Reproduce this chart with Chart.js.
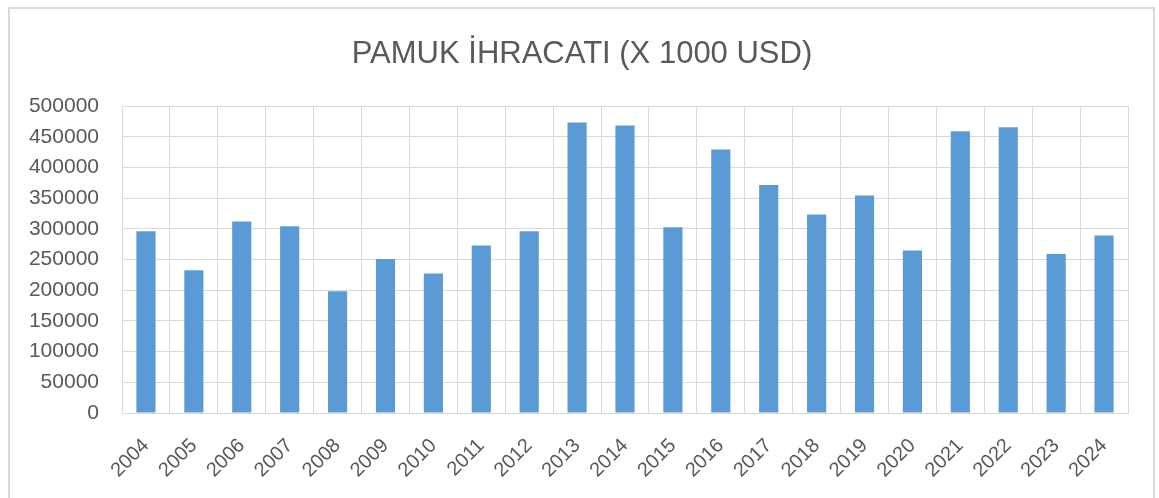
<!DOCTYPE html>
<html>
<head>
<meta charset="utf-8">
<script src="https://cdn.jsdelivr.net/npm/chart.js@4/dist/chart.umd.min.js"></script>
<style>
  html, body { margin: 0; padding: 0; background: #fff; overflow: hidden; }
  #frame { position: absolute; left: 8px; top: 7px; width: 1147px; height: 510px; border: 2px solid #d9d9d9; box-sizing: border-box; }
  #chart-container { position: absolute; left: 0; top: 0; width: 1159px; height: 498px; }
</style>
</head>
<body>
<div id="frame"></div>
<div id="chart-container"><canvas id="pamuk-chart" width="1159" height="498"></canvas></div>
<script>
const TITLE = 'PAMUK İHRACATI (X 1000 USD)';
const years = ['2004', '2005', '2006', '2007', '2008', '2009', '2010', '2011', '2012', '2013', '2014',
  '2015', '2016', '2017', '2018', '2019', '2020', '2021', '2022', '2023', '2024'];
const ihracat = [296000, 232600, 312000, 304300, 198400, 251000, 227200, 272800, 296000, 473300, 468400,
  302700, 429300, 371600, 323400, 354300, 264700, 459200, 465700, 259200, 289200];
const yMax = 500000;
const yStep = 50000;

const TEXT_COLOR = '#595959';
const GRID_COLOR = '#d9d9d9';
const BAR_COLOR = '#5b9bd5';
const FONT = "'Liberation Sans', Arial, sans-serif";

initChart();

function initChart() {
  const ctx = document.getElementById('pamuk-chart');
  const chartConfig = {
    type: 'bar',
    data: {
      labels: years,
      datasets: [{
        label: 'ihracat',
        data: ihracat,
        backgroundColor: BAR_COLOR,
        barPercentage: 0.4,
        categoryPercentage: 1
      }]
    },
    options: {
      responsive: false,
      animation: false,
      layout: { padding: { top: 0, left: 5, right: 0, bottom: 0 } },
      plugins: {
        legend: { display: false },
        tooltip: { enabled: false },
        title: {
          display: true,
          text: TITLE,
          color: TEXT_COLOR,
          font: { family: FONT, size: 31, weight: 'normal' },
          padding: { top: 36, bottom: 33 }
        }
      },
      scales: {
        x: {
          grid: { color: GRID_COLOR, lineWidth: 1, drawTicks: false, offset: true },
          border: { color: GRID_COLOR, width: 1 },
          ticks: {
            color: TEXT_COLOR,
            font: { family: FONT, size: 20 },
            minRotation: 45,
            maxRotation: 45,
            padding: 21,
            autoSkip: false
          },
          afterFit: (scale) => { scale.height = 85; }
        },
        y: {
          min: 0,
          max: yMax,
          grid: { color: GRID_COLOR, lineWidth: 1, drawTicks: false },
          border: { display: false },
          ticks: {
            stepSize: yStep,
            color: TEXT_COLOR,
            font: { family: FONT, size: 21 },
            padding: 23,
            callback: (v) => String(v)
          },
          afterFit: (scale) => { scale.width = 117; }
        },
        // empty axis on the right, only keeps the plot off the right edge
        yRight: {
          position: 'right',
          grid: { display: false },
          border: { display: false },
          ticks: { display: false },
          afterFit: (scale) => { scale.width = 31; }
        }
      }
    }
  };
  new Chart(ctx, chartConfig);
}
</script>
</body>
</html>
